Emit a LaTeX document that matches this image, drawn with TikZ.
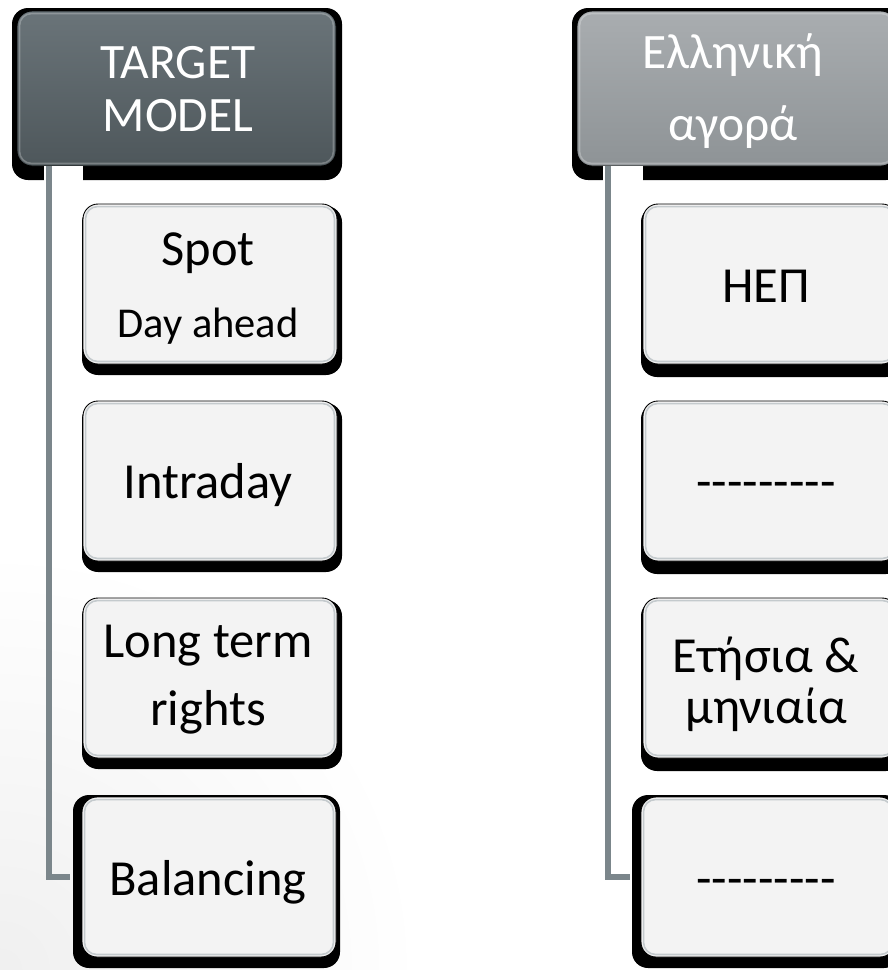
\documentclass[tikz,border=0pt]{standalone}
\usepackage{fontspec}
\setmainfont{Carlito}[Ligatures=TeXOff]
\definecolor{hdrLtop}{HTML}{6A7479}
\definecolor{hdrLbot}{HTML}{4E575B}
\definecolor{hdrRtop}{HTML}{A9ADB0}
\definecolor{hdrRbot}{HTML}{8E9396}
\definecolor{facec}{HTML}{F3F3F3}
\definecolor{connc}{HTML}{7B868B}
\definecolor{rimc}{HTML}{C4CACD}
\tikzset{
  shadowbox/.style={fill=black, rounded corners=16pt},
  facebox/.style={draw=black, line width=0.9pt, rounded corners=15pt, inner sep=0pt},
  childface/.style={facebox, fill=facec, minimum width=254pt, minimum height=160pt},
  hdrL/.style={facebox, top color=hdrLtop, bottom color=hdrLbot, minimum width=319pt, minimum height=155pt},
  hdrR/.style={facebox, top color=hdrRtop, bottom color=hdrRbot, minimum width=319pt, minimum height=155pt},
  rim/.style={draw=rimc, line width=1.6pt, rounded corners=12pt},
  hdrrim/.style={draw=white, draw opacity=0.25, line width=1.6pt, rounded corners=12pt},
  conn/.style={draw=connc, line width=6pt},
  hdrtext/.style={text=white, anchor=base, inner sep=0pt, font=\fontsize{49.5}{58}\selectfont},
  boxtext/.style={text=black, anchor=base, inner sep=0pt, font=\fontsize{50.5}{58}\selectfont},
  smalltext/.style={text=black, anchor=base, inner sep=0pt, font=\fontsize{42.5}{50}\selectfont},
}
\begin{document}
\begin{tikzpicture}[x=1pt,y=-1pt]
\useasboundingbox (0,0) rectangle (888,970);
\clip (0,0) rectangle (888,970);
\fill[white] (0,0) rectangle (888,970);
% faint background shade in the lower left corner
\fill[inner color=black!6, outer color=white] (-420,550) rectangle (420,1390);

% ---------- headers ----------
\fill[shadowbox] (12,8) rectangle (342,180);
\node[hdrL] (hL) at (176.5,88.5) {};
\draw[hdrrim] ([shift={(3,3)}]hL.north west) rectangle ([shift={(-3,-3)}]hL.south east);
\fill[shadowbox] (572,8) rectangle (902,180);
\node[hdrR] (hR) at (736.5,88.5) {};
\draw[hdrrim] ([shift={(3,3)}]hR.north west) rectangle ([shift={(-3,-3)}]hR.south east);

% white gaps under headers for the connectors
\fill[white] (44,166) rectangle (83,200);
\fill[white] (603,166) rectangle (643,200);

% ---------- connectors ----------
\coordinate (cL) at (49,166);
\coordinate (cR) at (608,166);

% ---------- left column ----------
\fill[shadowbox] (82,206) rectangle (342,375);
\node[childface] (spot) at (210,284) {};
\fill[shadowbox] (82,403) rectangle (342,572);
\node[childface] (intra) at (210,481) {};
\fill[shadowbox] (82,600) rectangle (342,769);
\node[childface] (longt) at (210,678) {};
\fill[shadowbox] (73,795) rectangle (340,968);
\node[childface] (bal) at (209,877) {};

% ---------- right column ----------
\fill[shadowbox] (641,206) rectangle (902,377);
\node[childface] (hep) at (770,284) {};
\fill[shadowbox] (641,403) rectangle (902,574);
\node[childface] (dashA) at (770,481) {};
\fill[shadowbox] (641,600) rectangle (902,771);
\node[childface] (annual) at (770,678) {};
\fill[shadowbox] (632,795) rectangle (900,968);
\node[childface] (dashB) at (768,877) {};

\foreach \b in {spot,intra,longt,bal,hep,dashA,annual,dashB}{
  \draw[rim] ([shift={(3,3)}]\b.north west) rectangle ([shift={(-3,-3)}]\b.south east);
}

\draw[conn] (cL) |- ([xshift=-12pt]bal.west);
\draw[conn] (cR) |- ([xshift=-11pt]dashB.west);

% ---------- texts ----------
\node[hdrtext] (tTarget) at (178,78) {TARGET};
\node[hdrtext] (tModel) at (178,131) {MODEL};
\node[hdrtext] (tEll) at (733,68) {Ελληνική};
\node[hdrtext] (tAgora) at (733,140) {αγορά};

\node[boxtext] (tSpot) at (208,265) {Spot};
\node[smalltext] (tDay) at (208,337) {Day ahead};
\node[boxtext] (tIntra) at (208,498) {Intraday};
\node[boxtext] (tLong) at (208,657) {Long term};
\node[boxtext] (tRights) at (208,725) {rights};
\node[boxtext] (tBal) at (208,895) {Balancing};

\node[boxtext] (tHep) at (766,302) {ΗΕΠ};
\node[boxtext] (tDashA) at (766,498) {---------};
\node[boxtext] (tEt) at (766,672) {Ετήσια \&};
\node[boxtext] (tMin) at (766,723) {μηνιαία};
\node[boxtext] (tDashB) at (766,895) {---------};
\end{tikzpicture}
\end{document}
